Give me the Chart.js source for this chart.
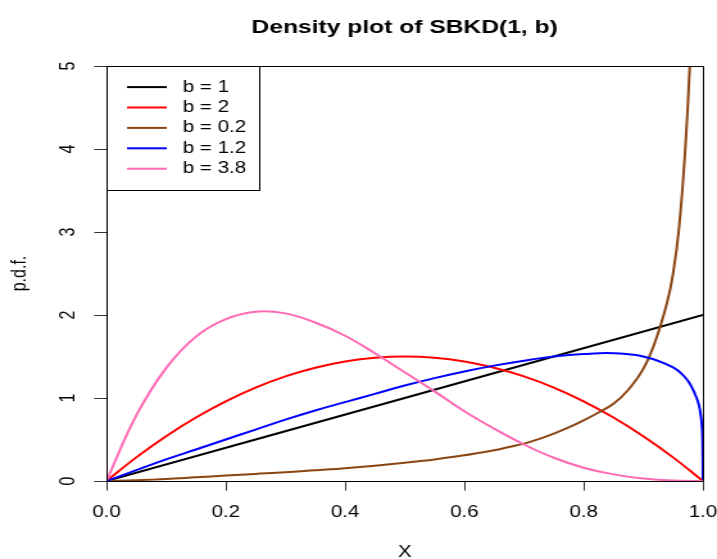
<!DOCTYPE html>
<html>
<head>
<meta charset="utf-8">
<title>Density plot of SBKD(1, b)</title>
<script src="https://cdn.jsdelivr.net/npm/chart.js@4.4.1/dist/chart.umd.min.js"></script>
<style>
  html, body { margin: 0; padding: 0; background: #fff; }
  #pdfChart { display: block; }
</style>
</head>
<body>
<!-- the reference is a square R plot stretched out to 717 px wide -->
<canvas id="pdfChart" width="559" height="559" style="width:717px;height:559px"></canvas>
<script>
// values
const xGrid = [0, 0.05, 0.1, 0.15, 0.2, 0.25, 0.3, 0.35, 0.4, 0.45, 0.5,
               0.55, 0.6, 0.65, 0.7, 0.75, 0.8, 0.85, 0.9, 0.95, 1];

const blackX = [0, 0.5, 1];
const blackY = [0, 1.0, 2.0];

const redY = [0, 0.285, 0.54, 0.765, 0.96, 1.125, 1.26, 1.365, 1.44, 1.485, 1.50,
              1.485, 1.44, 1.365, 1.26, 1.125, 0.96, 0.765, 0.54, 0.285, 0];

const brownX = [0, 0.05, 0.1, 0.15, 0.2, 0.25, 0.3, 0.35, 0.4, 0.45, 0.5,
                0.55, 0.6, 0.625, 0.65, 0.675, 0.7, 0.725, 0.75, 0.775, 0.8,
                0.825, 0.85, 0.875, 0.9, 0.92, 0.94, 0.95, 0.96, 0.97, 0.978, 0.985];
const brownY = [0, 0.01, 0.025, 0.045, 0.065, 0.085, 0.105, 0.13, 0.155, 0.185, 0.22,
                0.26, 0.31, 0.34, 0.37, 0.41, 0.45, 0.505, 0.57, 0.645, 0.73,
                0.825, 0.93, 1.1, 1.35, 1.68, 2.15, 2.5, 3.05, 3.95, 5.0, 6.4];

const blueX = [0, 0.05, 0.1, 0.15, 0.2, 0.25, 0.3, 0.35, 0.4, 0.45, 0.5,
               0.55, 0.6, 0.65, 0.7, 0.75, 0.8, 0.85, 0.9, 0.95, 0.97,
               0.98, 0.99, 0.995, 0.999, 1];
const blueY = [0, 0.13, 0.26, 0.38, 0.50, 0.62, 0.74, 0.85, 0.95, 1.05, 1.15,
               1.24, 1.32, 1.39, 1.45, 1.50, 1.53, 1.54, 1.50, 1.37, 1.25,
               1.15, 0.99, 0.86, 0.6, 0];

const pinkY = [0, 0.79, 1.36, 1.74, 1.95, 2.04, 2.02, 1.91, 1.75, 1.54, 1.31,
               1.08, 0.84, 0.63, 0.44, 0.28, 0.16, 0.08, 0.03, 0.005, 0];

const seriesLabels = ['b = 1', 'b = 2', 'b = 0.2', 'b = 1.2', 'b = 3.8'];
const xTicks = [0, 0.2, 0.4, 0.6, 0.8, 1.0];
const yTicks = [0, 1, 2, 3, 4, 5];

const toPoints = (xs, ys) => xs.map((x, i) => ({ x: x, y: ys[i] }));

const FONT = "'Liberation Sans', Arial, Helvetica, sans-serif";
Chart.defaults.font.family = FONT;
Chart.defaults.font.size = 16;
Chart.defaults.color = '#000';

// frame round the plot and the R style legend in the top left corner
const frameAndLegend = {
  id: 'frameAndLegend',
  afterDatasetsDraw(chart) {
    const { ctx, chartArea } = chart;
    const l = Math.round(chartArea.left) + 0.5;
    const t = Math.round(chartArea.top) + 0.5;
    ctx.save();
    ctx.strokeStyle = '#000';
    ctx.lineWidth = 1;
    ctx.strokeRect(l, t, Math.round(chartArea.right) - Math.round(chartArea.left),
                   Math.round(chartArea.bottom) - Math.round(chartArea.top));

    ctx.fillStyle = '#fff';
    ctx.fillRect(l, t, 119, 124);
    ctx.strokeRect(l, t, 119, 124);

    ctx.font = '16px ' + FONT;
    ctx.textBaseline = 'middle';
    ctx.textAlign = 'left';
    chart.data.datasets.forEach((ds, i) => {
      const y = t + 20.6 + i * 20.4;
      ctx.strokeStyle = ds.borderColor;
      ctx.lineWidth = 2;
      ctx.beginPath();
      ctx.moveTo(l + 15.5, y);
      ctx.lineTo(l + 46.5, y);
      ctx.stroke();
      ctx.fillStyle = '#000';
      ctx.fillText(ds.label, l + 59, y);
    });
    ctx.restore();
  }
};

const colors = ['#000000', '#FF0000', '#8B4513', '#0000FF', '#FF69B4'];
const pointSets = [
  toPoints(blackX, blackY),
  toPoints(xGrid, redY),
  toPoints(brownX, brownY),
  toPoints(blueX, blueY),
  toPoints(xGrid, pinkY)
];

const pdfChart = new Chart(document.getElementById('pdfChart'), {
  type: 'line',
  data: {
    datasets: pointSets.map((pts, i) => ({
      label: seriesLabels[i],
      data: pts,
      borderColor: colors[i],
      borderWidth: 2,
      pointRadius: 0,
      fill: false,
      tension: 0.4,
      order: pointSets.length - 1 - i   // later series on top, as in R
    }))
  },
  options: {
    responsive: false,
    animation: false,
    devicePixelRatio: 1,
    layout: { padding: { left: 0, right: 11, top: 0, bottom: 0 } },
    plugins: {
      legend: { display: false },
      tooltip: { enabled: false },
      title: {
        display: true,
        fullSize: false,
        text: 'Density plot of SBKD(1, b)',
        font: { size: 19.2, weight: 'bold' },
        padding: { top: 16.5, bottom: 26.5 }
      }
    },
    scales: {
      x: {
        type: 'linear',
        min: 0,
        max: 1,
        afterBuildTicks: s => { s.ticks = xTicks.map(v => ({ value: v })); },
        afterFit: s => {
          s.height = 78;
          // let the "1.0" label run into the margin, as R does
          s.paddingLeft = 0;
          s.paddingRight = 0;
        },
        ticks: {
          padding: 12,
          maxRotation: 0,
          autoSkip: false,
          callback: v => v.toFixed(1)
        },
        grid: { drawOnChartArea: false, drawTicks: true, tickLength: 9.6, color: '#333' },
        border: { display: true, color: '#000', width: 1 },
        title: { display: true, text: 'X', padding: { top: 0, bottom: -3.6 } }
      },
      y: {
        type: 'linear',
        min: 0,
        max: 5,
        afterBuildTicks: s => { s.ticks = yTicks.map(v => ({ value: v })); },
        afterFit: s => {
          s.width = 83;
          s.paddingTop = 0;
          s.paddingBottom = 0;
        },
        ticks: {
          padding: 15,
          minRotation: 90,
          maxRotation: 90,
          crossAlign: 'center',
          autoSkip: false,
          callback: v => String(v)
        },
        grid: { drawOnChartArea: false, drawTicks: true, tickLength: 9.6, color: '#333' },
        border: { display: true, color: '#000', width: 1 },
        title: { display: true, text: 'p.d.f.', padding: { top: 6, bottom: 0 } }
      }
    }
  },
  plugins: [frameAndLegend]
});
</script>
</body>
</html>
